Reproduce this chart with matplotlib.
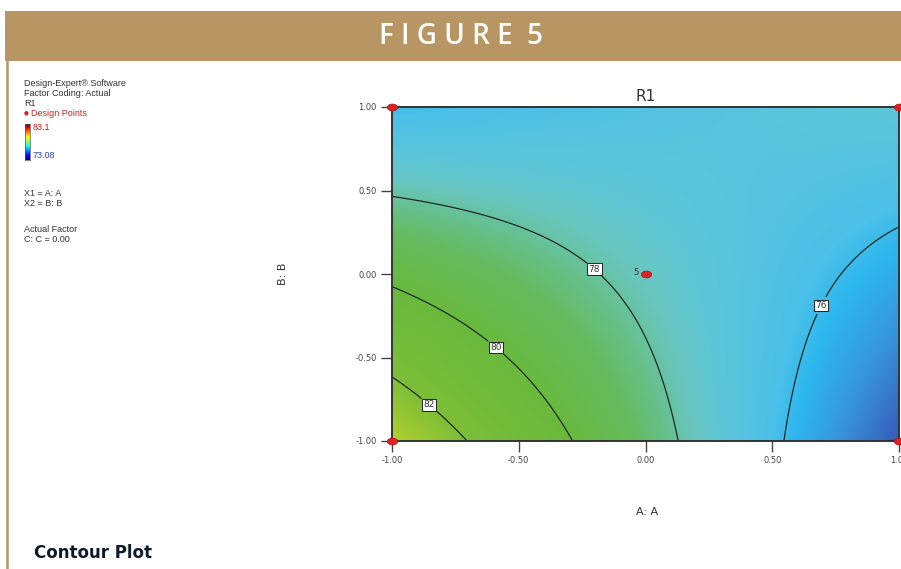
import numpy as np
import matplotlib
matplotlib.use('Agg')
import matplotlib.pyplot as plt
from matplotlib.colors import LinearSegmentedColormap, Normalize
from matplotlib.patches import Rectangle
from matplotlib.lines import Line2D
from matplotlib.path import Path
from matplotlib.transforms import Affine2D

W, H = 901, 569

# quadratic response model for R1 in coded factors A and B (C held at 0)
r1_coef = {'const': 77.62, 'A': -2.10, 'B': -1.00, 'AB': 2.70}
r1_min, r1_max = 73.08, 83.1

contour_levels = [76, 78, 80, 82]
label_pos = [(0.667, -0.168), (-0.197, 0.036), (-0.58, -0.42), (-0.844, -0.766)]

design_a = [-1, 1, -1, 1, 0]
design_b = [1, 1, -1, -1, 0]
center_runs = 5

ticks = [-1.0, -0.5, 0.0, 0.5, 1.0]

# colour ramp used for the response surface (value -> rgb)
ramp_vals = [73.0, 74.0, 75.0, 75.8, 76.2, 77.2, 77.7, 78.2, 78.8, 80.0, 82.0, 83.5]
ramp_rgb = [(45, 60, 150), (55, 100, 190), (55, 150, 220), (45, 183, 238),
            (75, 192, 233), (95, 198, 215), (105, 198, 190), (102, 192, 140),
            (102, 187, 95), (105, 185, 62), (125, 190, 55), (180, 208, 45)]

tan = '#b79663'
gray = '#333333'


def fx(px):
    return px / W


def fy(py):
    return 1 - py / H


fig = plt.figure(figsize=(W / 100, H / 100), dpi=100)

# header band and left rule
fig.add_artist(Rectangle((fx(5), fy(61)), fx(W - 5), 50 / H, transform=fig.transFigure,
                         facecolor=tan, edgecolor='none'))
fig.add_artist(Line2D([fx(7), fx(7)], [0, fy(61)], transform=fig.transFigure,
                      color=tan, lw=1.8))
fig.text(fx(461), fy(37), 'F I G U R E  5', color='white', fontsize=20,
         fontfamily='Open Sans', fontweight='semibold', ha='center', va='center')

# software info block
small = dict(fontsize=6.5, fontfamily='Liberation Sans', color=gray, va='center')
fig.text(fx(24), fy(84), 'Design-Expert® Software', **small)
fig.text(fx(24), fy(93), 'Factor Coding: Actual', **small)
fig.text(fx(24), fy(103), 'R1', **small)
fig.text(fx(24), fy(113), '●', fontsize=4, color='#d62020', va='center')
fig.text(fx(31), fy(113), 'Design Points', fontsize=6.5, fontfamily='Liberation Sans',
         color='#d62020', va='center')
fig.text(fx(33), fy(127), f'{r1_max:g}', fontsize=6.5, fontfamily='Liberation Sans',
         color='#d62020', va='center')
fig.text(fx(33), fy(156), f'{r1_min:.2f}', fontsize=6.5, fontfamily='Liberation Sans',
         color='#2a3fc0', va='center')
fig.text(fx(24), fy(193), 'X1 = A: A', **small)
fig.text(fx(24), fy(203), 'X2 = B: B', **small)
fig.text(fx(24), fy(229), 'Actual Factor', **small)
fig.text(fx(24), fy(239), 'C: C = 0.00', **small)

cax = fig.add_axes([fx(25), fy(160), 5 / W, 36 / H])
cax.imshow(np.linspace(0, 1, 64).reshape(-1, 1), cmap='jet', origin='lower', aspect='auto')
cax.set_xticks([])
cax.set_yticks([])
for s in cax.spines.values():
    s.set_linewidth(0.5)
    s.set_color('#555')

# contour plot
ax = fig.add_axes([fx(392), fy(441), 507 / W, 334 / H])
a = np.linspace(-1, 1, 400)
b = np.linspace(-1, 1, 400)
A, B = np.meshgrid(a, b)
Z = r1_coef['const'] + r1_coef['A'] * A + r1_coef['B'] * B + r1_coef['AB'] * A * B

lo, hi = ramp_vals[0], ramp_vals[-1]
cmap = LinearSegmentedColormap.from_list(
    'r1', [((v - lo) / (hi - lo), tuple(c / 255 for c in rgb)) for v, rgb in zip(ramp_vals, ramp_rgb)])
ax.imshow(Z, extent=(-1, 1, -1, 1), origin='lower', cmap=cmap,
          norm=Normalize(lo, hi), aspect='auto', interpolation='bilinear')
cs = ax.contour(A, B, Z, levels=contour_levels, colors='#1e2a22', linewidths=0.9)
labels = ax.clabel(cs, fmt='%d', fontsize=6.5, inline=True, inline_spacing=4, manual=label_pos)
for t in labels:
    t.set_rotation(0)
    t.set_color('#333')
    t.set_bbox(dict(boxstyle='square,pad=0.15', fc='white', ec='#222', lw=0.7))

ell = Path.unit_circle().transformed(Affine2D().scale(1.5, 1.0))
ax.scatter(design_a, design_b, marker=ell, s=55, color='#e02020', edgecolor='#b01010',
           lw=0.5, zorder=5, clip_on=False)
ax.annotate(str(center_runs), (0, 0), xytext=(-5, 1), textcoords='offset points',
            ha='right', va='center', fontsize=6, color=gray)

ax.set_xlim(-1, 1)
ax.set_ylim(-1, 1)
ax.set_xticks(ticks)
ax.set_yticks(ticks)
ax.set_xticklabels([f'{t:.2f}' for t in ticks])
ax.set_yticklabels([f'{t:.2f}' for t in ticks])
ax.tick_params(direction='out', length=8, width=1, color='#444', labelsize=6,
               labelcolor='#444', pad=3)
for s in ax.spines.values():
    s.set_linewidth(1.4)
    s.set_color('#333')
ax.set_title('R1', fontsize=11, color=gray, pad=4)
ax.set_xlabel('A: A', fontsize=8, color=gray)
ax.set_ylabel('B: B', fontsize=8, color=gray)
ax.xaxis.set_label_coords(0.503, -0.198)
ax.yaxis.set_label_coords(-0.206, 0.5)

fig.text(fx(34), fy(553), 'Contour Plot', fontsize=12, fontweight='bold',
         color='#0f1b2b', va='center')

plt.savefig('out.png', dpi=100)
